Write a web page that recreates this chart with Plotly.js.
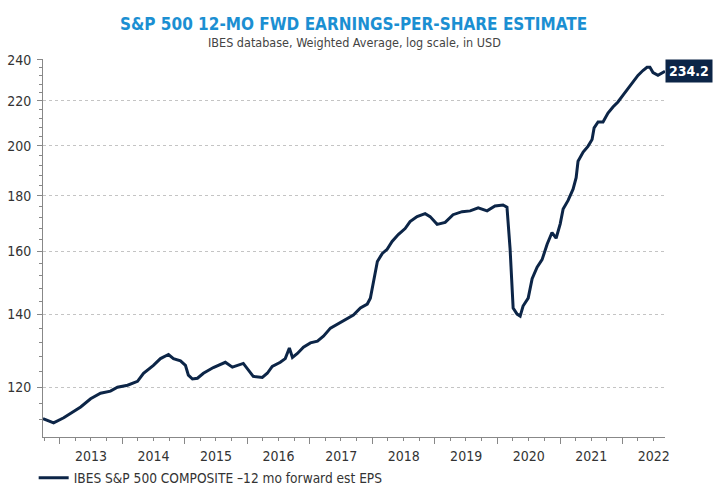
<!DOCTYPE html>
<html>
<head>
<meta charset="utf-8">
<script src="https://cdn.plot.ly/plotly-3.0.1.min.js"></script>
<style>html,body{margin:0;padding:0;background:#fff;}#chart{width:726px;height:496px;}</style>
</head>
<body>
<div id="chart"></div>
<script>
const dates = [
"2012-09-25","2012-11-26","2013-01-24","2013-03-23","2013-05-03","2013-06-30","2013-08-27","2013-10-24","2013-12-04",
"2014-02-01","2014-03-31","2014-05-05","2014-07-02","2014-08-12","2014-09-28","2014-10-27","2014-12-07",
"2015-01-05","2015-01-22","2015-02-15","2015-03-16","2015-04-20","2015-06-17","2015-08-26","2015-10-06","2015-12-09",
"2016-01-07","2016-02-05","2016-03-29","2016-04-27","2016-05-26","2016-07-12","2016-08-10","2016-09-03","2016-09-21","2016-10-20","2016-11-24",
"2017-01-04","2017-02-14","2017-03-21","2017-05-01","2017-06-11","2017-07-27","2017-09-12","2017-10-23","2017-12-02","2017-12-20",
"2018-01-06","2018-01-30","2018-02-28","2018-03-28","2018-04-26","2018-06-01","2018-07-11","2018-08-09","2018-09-19","2018-11-05","2018-12-04",
"2019-01-14","2019-03-02","2019-04-17","2019-06-09","2019-07-26","2019-09-11","2019-11-02","2019-12-18",
"2020-02-03","2020-02-26","2020-03-15","2020-04-02","2020-04-25","2020-05-13","2020-05-30","2020-06-29","2020-07-22","2020-08-20","2020-09-18","2020-10-18","2020-11-15","2020-12-09",
"2021-01-02","2021-01-19","2021-02-17","2021-03-18","2021-04-05","2021-04-16","2021-05-16","2021-06-13","2021-07-07","2021-07-19","2021-08-11","2021-09-09","2021-10-08","2021-11-06","2021-12-05",
"2022-01-04","2022-02-02","2022-03-03","2022-04-01","2022-04-30","2022-05-24","2022-06-10","2022-06-28","2022-07-27","2022-08-19","2022-09-06"
];
const eps = [
112.3,111.3,112.5,113.9,115.1,117.1,118.5,119.0,120.0,
120.5,121.5,123.6,125.7,127.5,128.6,127.5,126.9,
125.7,123.1,122.1,122.3,123.6,125.1,126.5,125.2,126.2,
124.4,122.8,122.5,123.6,125.4,126.5,127.5,130.4,127.8,128.9,130.6,
131.8,132.3,133.7,136.0,137.2,138.6,139.8,141.9,143.1,144.9,
150.2,156.6,159.3,160.7,163.4,165.8,167.9,170.4,172.2,173.3,172.2,
169.4,170.1,172.9,174.0,174.3,175.4,174.3,176.1,
176.5,175.7,161.0,141.9,140.1,139.5,142.5,144.9,151.0,154.7,157.2,162.5,166.5,164.5,
169.6,175.0,178.2,182.5,187.0,193.6,197.4,199.8,202.7,207.8,210.4,210.4,214.4,217.2,219.5,
222.7,226.0,228.8,232.2,234.6,236.2,236.2,233.6,232.2,233.1,234.2
];
const yTicks = [120,140,160,180,200,220,240];
const yMinor = [112,116,124,128,132,136,144,148,152,156,164,168,172,176,184,188,192,196,204,208,212,216,224,228,232,236];
const seriesName = "IBES S&P 500 COMPOSITE \u201312 mo forward est EPS";
const titleText = "S&P 500 12-MO FWD EARNINGS-PER-SHARE ESTIMATE";
const subtitleText = "IBES database, Weighted Average, log scale, in USD";

const FONT = "Liberation Sans Narrow, DejaVu Sans Condensed, Arial Narrow, sans-serif";
const NAVY = "#0c2547";

const trace = {
  x: dates, y: eps, type: "scatter", mode: "lines", name: seriesName,
  line: {color: NAVY, width: 3}
};

const lastX = dates[dates.length - 1];
const lastY = eps[eps.length - 1];

const layout = {
  width: 726, height: 496,
  margin: {l: 43, r: 61, t: 59, b: 59, pad: 0, autoexpand: false},
  paper_bgcolor: "#fff", plot_bgcolor: "#fff",
  font: {family: FONT, size: 14, color: "#333"},
  title: {
    text: "<b>" + titleText + "</b>",
    font: {family: FONT, size: 17, color: "#1b8fd2"},
    x: 0.487, xanchor: "center", xref: "container",
    y: 1 - 24/496, yanchor: "middle", yref: "container"
  },
  showlegend: true,
  legend: {orientation: "h", x: -0.015, xanchor: "left", y: -0.108, yanchor: "middle",
           font: {family: FONT, size: 13.6, color: "#333"}, itemwidth: 30, bgcolor: "rgba(0,0,0,0)"},
  xaxis: {
    type: "date", range: [dates[0], lastX],
    tick0: "2013-01-01", dtick: "M12", tickformat: "%Y", ticklabelmode: "period",
    ticks: "outside", ticklen: 6, tickcolor: "#888", tickwidth: 1,
    minor: {dtick: "M3", ticks: "outside", ticklen: 3, tickcolor: "#888", showgrid: false},
    showgrid: false, zeroline: false,
    showline: true, linecolor: "#888", linewidth: 1,
    tickfont: {family: FONT, size: 14, color: "#333"}
  },
  yaxis: {
    type: "log", range: [Math.log10(108), Math.log10(240.4)],
    tickmode: "array", tickvals: yTicks, ticktext: yTicks.map(String),
    ticks: "outside", ticklen: 5, tickcolor: "#888",
    minor: {tickmode: "array", tickvals: yMinor, ticks: "outside", ticklen: 3, tickcolor: "#888", showgrid: false},
    showgrid: true, gridcolor: "#c4c4c4", griddash: "dot", gridwidth: 1,
    zeroline: false, showline: true, linecolor: "#888", linewidth: 1,
    tickfont: {family: FONT, size: 14, color: "#333"}, ticklabelstandoff: 3
  },
  annotations: [{
    x: lastX, y: Math.log10(lastY), xref: "x", yref: "y",
    text: "<b>" + lastY.toFixed(1) + "</b>", showarrow: false,
    xanchor: "left", yanchor: "middle",
    bgcolor: NAVY, borderpad: 3,
    font: {family: FONT, size: 14, color: "#fff"}
  }, {
    x: (354 - 43) / 622, y: (437 - 42) / 378, xref: "paper", yref: "paper",
    text: subtitleText, showarrow: false, xanchor: "center", yanchor: "middle",
    font: {family: FONT, size: 12.5, color: "#444"}
  }]
};

Plotly.newPlot("chart", [trace], layout, {displayModeBar: false, staticPlot: true});
</script>
</body>
</html>
